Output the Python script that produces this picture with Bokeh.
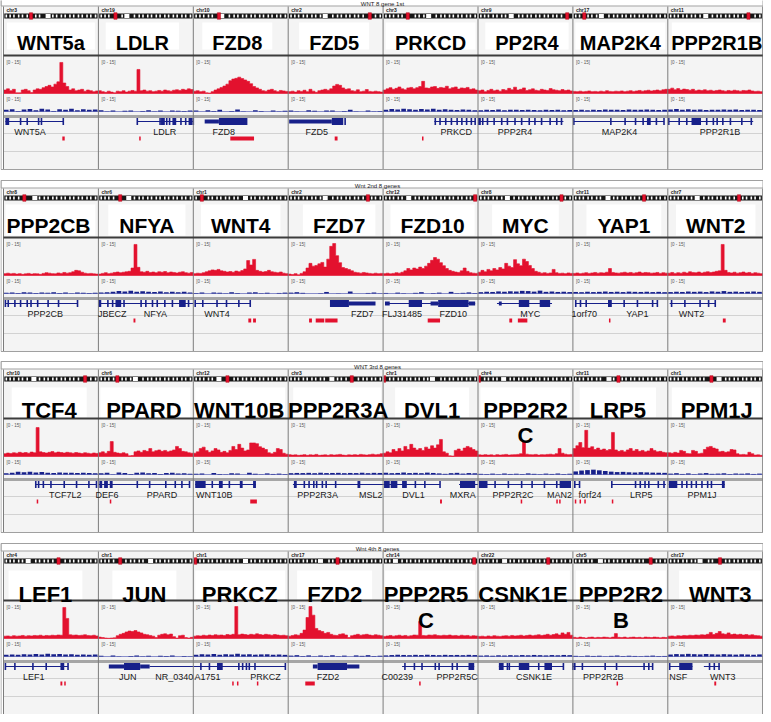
from bokeh.plotting import figure
from bokeh.models import Range1d
from bokeh.core.properties import value
from bokeh.embed import file_html
from bokeh.resources import INLINE

# ------------------------------------------------------------------ data
panel_titles = ["WNT 8 gene 1st", "Wnt 2nd 8 genes", "WNT 3rd 8 genes", "Wnt 4th 8 genes"]

genes_p1 = ["WNT5a", "LDLR", "FZD8", "FZD5", "PRKCD", "PP2R4", "MAP2K4", "PPP2R1B"]
genes_p2 = ["PPP2CB", "NFYA", "WNT4", "FZD7", "FZD10", "MYC", "YAP1", "WNT2"]
genes_p3 = ["TCF4", "PPARD", "WNT10B", "PPP2R3A", "DVL1", "PPP2R2", "LRP5", "PPM1J"]
genes_p4 = ["LEF1", "JUN", "PRKCZ", "FZD2", "PPP2R5", "CSNK1E", "PPP2R2", "WNT3"]

sub_p1 = ["", "", "", "", "", "", "", ""]
sub_p2 = ["", "", "", "", "", "", "", ""]
sub_p3 = ["", "", "", "", "", "C", "", ""]
sub_p4 = ["", "", "", "", "C", "", "B", ""]

chroms_p1 = ["chr3", "chr19", "chr10", "chr2", "chr3", "chr9", "chr17", "chr11"]
chroms_p2 = ["chr8", "chr6", "chr1", "chr2", "chr12", "chr8", "chr11", "chr7"]
chroms_p3 = ["chr10", "chr6", "chr12", "chr3", "chr1", "chr4", "chr11", "chr1"]
chroms_p4 = ["chr4", "chr1", "chr1", "chr17", "chr14", "chr22", "chr5", "chr17"]

# position of the viewed locus (red box) and the centromere on each ideogram
locus_p1 = [0.29, 0.18, 0.27, 0.86, 0.26, 0.94, 0.12, 0.85]
locus_p2 = [0.22, 0.23, 0.09, 0.84, 0.97, 0.88, 0.75, 0.75]
locus_p3 = [0.86, 0.20, 0.36, 0.67, 0.01, 0.01, 0.48, 0.46]
locus_p4 = [0.58, 0.23, 0.02, 0.52, 0.96, 0.74, 0.82, 0.55]
centro_p1 = [0.47, 0.30, 0.30, 0.39, 0.48, 0.35, 0.30, 0.40]
centro_p2 = [0.33, 0.32, 0.55, 0.39, 0.27, 0.31, 0.37, 0.31]
centro_p3 = [0.32, 0.39, 0.27, 0.46, 0.52, 0.27, 0.38, 0.54]
centro_p4 = [0.26, 0.55, 0.55, 0.34, 0.13, 0.28, 0.29, 0.34]

# red coverage track (0-15), 32 bins per gene window
red_p1 = [
    [1.5, 2, 1.2, 1.8, 0.3, 0.3, 1.5, 1.8, 1.2, 0.4, 1.5, 2, 1.8, 2.5, 3, 3.5, 2.8, 4, 5, 13.3, 4.5, 3, 1.5, 2, 1.2, 1.5, 1.8, 1, 1.5, 1.2, 0.8, 1.1],
    [1.2, 0.8, 0.5, 1, 0.6, 0.3, 1, 0.8, 1.2, 0.6, 1, 1.3, 1, 10.3, 1.2, 1.5, 1, 1.2, 0.8, 1, 1.3, 1, 1.5, 1.2, 1, 1.4, 1.6, 1.3, 1.8, 1.5, 2, 1.7],
    [1, 1.2, 0.8, 1, 0.3, 0.2, 0.8, 1.5, 2, 2.6, 3.2, 4, 5.5, 6.2, 6.5, 7, 6.4, 5.8, 5.2, 4.2, 3, 2.4, 1.8, 1.2, 1, 1.5, 1.8, 1.2, 0.8, 1.3, 1.1, 0.9],
    [0.8, 1, 0.6, 1.2, 0.9, 1.4, 0.8, 1.8, 1, 0.5, 1.2, 1.5, 1.8, 1.4, 2, 3.2, 3.9, 3.5, 2.4, 1.8, 2, 1.2, 1, 1.6, 0.8, 1, 1.7, 0.9, 0.7, 1, 0.8, 0.6],
    [1.5, 2, 2.5, 1.8, 2.2, 2.8, 2, 1.6, 2.4, 2.6, 2, 2.5, 3, 5.2, 2.4, 2.2, 2.8, 3, 2.2, 2.6, 2.4, 3.1, 2, 2.5, 2.8, 1.9, 2.4, 2.2, 2.6, 1.8, 2, 1.5],
    [1.2, 1.5, 0.8, 1.3, 1.8, 1.2, 1.5, 1, 1.7, 1.4, 2.2, 1.6, 2.7, 1.5, 1.8, 2.4, 1.3, 1.6, 2, 1.4, 1.2, 1.8, 1.5, 1.3, 2.1, 1.6, 1.4, 1.2, 1.7, 1.3, 1.5, 1.1],
    [0.9, 0.8, 1, 0.7, 0.9, 1.1, 0.8, 0.9, 0.7, 1, 0.8, 1.2, 0.9, 0.8, 1, 0.9, 1.1, 0.8, 1, 1.2, 0.9, 1.1, 1.3, 1, 1.2, 1.4, 1.1, 1.3, 1.5, 1.2, 1.6, 1.8],
    [1.8, 2.3, 1.6, 2.1, 1.5, 1.9, 1.7, 1.4, 1.8, 1.2, 1.5, 1.3, 1.6, 1.2, 1.4, 1.1, 1.3, 1.5, 1.2, 1.0, 1.3, 1.1, 1.4, 1.2, 1.0, 1.3, 1.2, 1.5, 1.1, 0.9, 1.0, 0.8],
]
red_p2 = [
    [0.8, 1, 0.7, 0.9, 0.6, 0.8, 0.5, 0.7, 0.9, 0.6, 0.8, 0.7, 0.5, 0.9, 1.2, 1.0, 0.8, 0.7, 1.1, 0.9, 1.3, 1.0, 1.2, 1.6, 2.2, 2.0, 1.4, 1.0, 0.8, 0.9, 0.7, 0.6],
    [0.6, 0.9, 1.2, 0.8, 1.0, 1.3, 1.5, 1.2, 1.4, 1.6, 1.8, 3.2, 13.3, 3.5, 1.6, 1.4, 1.8, 1.3, 1.5, 1.2, 1.6, 1.4, 1.7, 1.2, 1.5, 1.3, 1.1, 1.4, 1.6, 1.2, 1.0, 1.3],
    [0.8, 1.0, 0.9, 1.2, 1.6, 2.0, 2.4, 2.2, 2.6, 2.0, 1.8, 1.5, 1.7, 1.4, 1.9, 1.6, 2.1, 2.8, 6.4, 4.5, 6.9, 2.2, 1.8, 1.5, 1.7, 2.2, 1.6, 1.4, 1.2, 1.5, 1.0, 0.8],
    [0.6, 0.4, 0.8, 0.3, 0.9, 1.6, 3.2, 5.2, 4.0, 4.3, 5.0, 5.6, 3.6, 7.0, 12.5, 13.7, 8.5, 5.5, 3.4, 3.0, 2.6, 2.0, 1.4, 1.2, 1.0, 1.3, 1.1, 0.9, 0.7, 1.0, 0.8, 0.9],
    [0.8, 1.0, 0.7, 0.9, 1.2, 1.0, 1.4, 2.0, 3.0, 2.4, 3.2, 2.8, 3.6, 3.0, 4.0, 5.2, 6.5, 7.7, 7.0, 5.5, 4.2, 3.0, 2.2, 1.8, 1.5, 1.3, 2.0, 3.2, 1.8, 1.2, 1.0, 0.9],
    [1.4, 2.2, 1.6, 2.6, 2.0, 3.0, 2.4, 3.4, 2.8, 5.2, 4.0, 3.4, 6.8, 5.0, 4.2, 7.0, 6.0, 4.3, 3.0, 1.8, 1.4, 1.0, 1.2, 0.9, 1.1, 2.6, 1.2, 0.9, 1.0, 0.8, 1.1, 0.9],
    [0.9, 1.1, 0.8, 1.0, 1.2, 0.9, 1.1, 1.3, 1.0, 1.2, 1.1, 1.4, 3.0, 1.3, 1.1, 1.0, 1.2, 1.4, 1.1, 1.3, 1.0, 1.2, 1.5, 1.1, 1.3, 1.2, 1.0, 1.1, 1.3, 0.9, 1.2, 1.0],
    [1.0, 1.3, 0.9, 1.2, 1.0, 1.4, 1.1, 1.6, 1.3, 1.2, 1.5, 1.1, 1.4, 1.6, 1.3, 1.5, 1.8, 2.0, 13.3, 2.2, 1.3, 1.1, 1.4, 1.0, 1.2, 1.5, 1.1, 1.3, 0.9, 1.2, 1.0, 0.8],
]
red_p3 = [
    [1.2, 1.5, 1.3, 1.6, 1.4, 1.8, 1.5, 1.7, 1.4, 1.9, 1.6, 12.4, 2.0, 1.7, 1.5, 1.8, 2.1, 1.6, 1.9, 1.7, 1.5, 1.8, 1.6, 1.4, 1.7, 1.5, 1.3, 1.6, 1.4, 1.2, 1.5, 1.3],
    [1.6, 2.0, 1.4, 2.2, 6.4, 1.8, 1.5, 1.3, 1.6, 1.2, 0.3, 0.4, 2.0, 2.4, 1.8, 2.6, 2.2, 3.4, 2.0, 2.5, 2.8, 2.2, 2.6, 2.0, 2.4, 2.8, 4.3, 3.4, 2.2, 2.0, 1.6, 1.4],
    [1.4, 2.0, 3.4, 4.0, 2.6, 1.8, 2.4, 3.4, 2.8, 1.8, 2.2, 1.6, 2.6, 4.3, 3.0, 5.2, 3.6, 2.4, 2.8, 5.8, 5.8, 5.5, 4.2, 3.6, 3.0, 1.6, 1.2, 1.8, 3.4, 3.0, 1.4, 1.0],
    [0.8, 0.6, 0.7, 0.5, 0.6, 0.8, 0.5, 0.7, 0.6, 0.9, 0.5, 0.6, 0.7, 0.5, 0.8, 0.6, 0.7, 0.9, 0.6, 0.5, 0.7, 0.6, 0.8, 0.6, 0.9, 0.7, 0.6, 0.8, 1.0, 0.7, 0.9, 1.2],
    [1.4, 2.0, 1.6, 3.0, 2.2, 3.4, 2.4, 4.3, 3.0, 5.2, 3.6, 2.8, 3.4, 2.6, 4.0, 3.2, 4.6, 3.6, 5.0, 7.3, 2.0, 1.4, 0.3, 0.2, 2.6, 3.2, 2.4, 3.6, 4.3, 3.8, 3.0, 2.4],
    [0.7, 0.6, 0.8, 0.6, 0.7, 0.5, 0.8, 0.6, 0.7, 0.9, 0.6, 0.7, 0.8, 0.9, 1.2, 6.4, 1.0, 0.8, 0.7, 0.9, 0.6, 0.8, 0.7, 0.9, 1.0, 0.8, 1.2, 3.4, 1.4, 1.0, 0.8, 0.9],
    [3.4, 4.6, 6.0, 3.8, 11.2, 3.6, 4.2, 3.0, 3.6, 2.8, 3.2, 2.6, 3.0, 10.3, 2.8, 2.2, 2.6, 2.0, 2.8, 3.4, 2.4, 3.0, 2.2, 2.6, 2.0, 2.4, 3.4, 2.6, 2.0, 2.2, 1.8, 1.6],
    [1.6, 1.4, 1.8, 1.5, 2.6, 2.2, 1.3, 1.2, 2.6, 2.2, 1.2, 1.4, 3.0, 4.0, 4.3, 3.6, 3.2, 2.0, 2.2, 1.8, 2.0, 3.0, 2.8, 1.2, 0.8, 0.9, 0.7, 1.8, 1.2, 0.6, 0.7, 0.5],
]
red_p4 = [
    [1.0, 1.1, 0.9, 1.2, 1.0, 1.1, 1.3, 1.0, 1.2, 1.1, 1.3, 1.2, 1.4, 1.1, 1.3, 1.2, 1.4, 1.3, 1.5, 1.4, 13.3, 8.6, 1.6, 1.4, 1.5, 1.3, 1.4, 1.6, 1.3, 1.2, 1.4, 1.1],
    [0.6, 0.4, 0.2, 0.1, 0.2, 0.3, 1.2, 1.8, 2.2, 2.8, 3.2, 3.0, 3.4, 2.8, 2.4, 1.8, 1.6, 1.3, 1.0, 0.4, 1.4, 1.8, 2.0, 1.6, 1.9, 0.8, 0.2, 1.2, 1.4, 0.4, 0.2, 0.5],
    [1.0, 1.2, 1.1, 1.4, 1.2, 1.5, 1.3, 1.6, 1.4, 1.5, 1.3, 1.7, 1.5, 1.8, 13.7, 1.6, 1.9, 1.7, 1.5, 1.8, 1.6, 2.0, 1.7, 1.5, 1.8, 1.6, 1.4, 1.7, 1.5, 1.3, 1.4, 1.2],
    [1.0, 1.3, 1.6, 1.4, 2.2, 3.6, 9.0, 13.7, 10.0, 4.3, 3.4, 3.0, 2.2, 2.6, 1.8, 1.4, 1.3, 1.8, 2.0, 1.5, 0.4, 1.2, 1.5, 1.8, 1.4, 1.6, 1.8, 1.5, 1.3, 1.6, 1.4, 1.2],
    [0.9, 1.1, 1.3, 1.0, 1.2, 1.4, 1.1, 1.3, 1.0, 1.2, 1.5, 1.4, 7.3, 1.3, 1.2, 1.5, 1.4, 1.6, 1.3, 1.2, 1.4, 1.3, 1.5, 1.2, 1.3, 1.1, 1.4, 1.2, 1.3, 1.0, 1.2, 1.1],
    [0.9, 1.0, 0.8, 1.1, 0.9, 1.2, 1.0, 0.9, 1.1, 1.2, 1.0, 1.3, 1.1, 1.2, 1.4, 1.1, 1.3, 1.5, 1.2, 1.4, 1.6, 1.3, 1.5, 1.8, 1.4, 1.7, 2.0, 1.5, 2.4, 1.8, 2.6, 1.4],
    [0.5, 0.3, 0.6, 0.4, 0.2, 0.5, 0.6, 0.3, 0.5, 0.4, 0.6, 0.5, 0.3, 0.6, 2.1, 0.5, 0.4, 0.6, 0.3, 0.5, 0.6, 0.4, 0.5, 0.3, 0.6, 0.5, 0.4, 0.6, 0.5, 0.3, 0.5, 0.4],
    [1.0, 1.1, 0.9, 1.2, 1.1, 1.3, 1.2, 1.4, 1.3, 1.5, 1.4, 1.6, 1.5, 1.8, 2.6, 1.7, 2.2, 3.0, 2.0, 1.8, 2.4, 1.7, 1.9, 1.6, 1.8, 1.5, 1.7, 1.4, 1.6, 1.3, 1.2, 1.0],
]

# blue coverage track (0-15), 16 bins per gene window
blue_p1 = [
    [1.5, 2, 0.5, 1.8, 2.2, 1.2, 2.5, 1.8, 0.4, 2, 1.6, 2.4, 1.2, 2, 1.5, 1.8],
    [1.2, 0.2, 0.8, 0, 0.6, 1, 0, 0.5, 1.2, 0.3, 0.8, 0, 1, 0.6, 0.4, 1],
    [0.8, 0, 1.2, 0.5, 1.5, 0, 0.4, 1.8, 0.3, 0, 1.2, 0.5, 0, 1, 0.3, 0.6],
    [1, 0.3, 0, 1.2, 0.6, 0, 0.8, 1, 0, 0.4, 1.5, 0.2, 0, 0.8, 0.3, 0.5],
    [1.5, 2.2, 1.8, 2.5, 2, 1.6, 2.2, 1.8, 2.4, 1.5, 2, 1.7, 1.3, 1.9, 1.5, 1.2],
    [1.2, 1.6, 1.4, 1.8, 1.2, 1.5, 1.7, 1.3, 1.6, 1.4, 1.2, 1.5, 1.3, 1.6, 1.2, 1.4],
    [1.3, 1.5, 1.2, 1.6, 1.4, 1.8, 1.5, 1.7, 1.4, 1.9, 1.6, 1.5, 1.8, 1.6, 1.4, 1.7],
    [1.8, 2.2, 1.6, 2, 1.5, 1.8, 1.4, 1.7, 1.5, 1.9, 1.6, 1.8, 1.4, 1.6, 1.5, 1.3],
]
blue_p2 = [
    [0.6, 1, 0.4, 1.2, 0.8, 0.5, 1, 0.7, 1.2, 0.5, 0.9, 0.3, 0.8, 0.6, 0.4, 0.7],
    [0.8, 1.2, 1.6, 2.2, 1.8, 2.4, 1.5, 2, 1.7, 1.4, 1.9, 1.2, 1.6, 1.1, 1.5, 1],
    [0.5, 0.8, 0, 1, 0.6, 0.3, 1.2, 0.4, 0, 0.9, 1.1, 0.3, 0.7, 0, 0.5, 0.8],
    [0.8, 1.2, 0.6, 0, 0, 0.3, 1.4, 0, 0.2, 0, 1.8, 0, 0, 0.5, 0.9, 0.2],
    [0.5, 0, 0.8, 0.3, 0, 0.6, 1.2, 0, 0.4, 0.8, 0, 1.5, 0.3, 0.6, 1, 0.4],
    [1.2, 1.6, 1.4, 1.9, 1.6, 2, 1.8, 2.4, 2.2, 1.7, 2.6, 1.5, 1.8, 1.4, 1.6, 1.3],
    [1.4, 1.2, 1.6, 1.3, 1.5, 1.8, 1.4, 1.6, 1.3, 1.7, 1.5, 1.4, 1.6, 1.3, 1.5, 1.2],
    [1.3, 1.6, 1.4, 1.8, 1.5, 1.7, 1.3, 1.9, 1.6, 2.2, 1.5, 1.7, 1.4, 1.6, 1.8, 1.5],
]
blue_p3 = [
    [1.2, 1.6, 2.4, 2, 2.6, 1.8, 2.2, 1.6, 1.4, 1.8, 1.5, 1.7, 1.3, 1.6, 1.4, 1.2],
    [1.2, 1.5, 0.3, 1.8, 1.4, 0.5, 1.6, 1.9, 1.2, 1.4, 0.4, 1.3, 1.5, 0.8, 1.1, 0.6],
    [0.6, 0.9, 0, 1.4, 0.5, 0.3, 1.2, 0.8, 0, 1.6, 0.7, 0.2, 1, 0.5, 0.8, 0.4],
    [1.2, 1.4, 1.3, 1.5, 1.2, 1.6, 1.3, 1.4, 1.5, 1.2, 1.4, 1.3, 1.6, 1.2, 1.5, 1.4],
    [1.6, 1.2, 1.4, 1.8, 1.3, 1.5, 1.2, 1.7, 1.4, 1, 0.6, 1.2, 1.5, 0.8, 1.3, 1.1],
    [0.6, 0.4, 0.8, 0.3, 0.9, 0.5, 0.7, 0.4, 1, 0.6, 0.3, 0.8, 0.5, 0.9, 0.4, 0.7],
    [2.8, 3.6, 4, 4.4, 3.8, 3.2, 2.6, 2.2, 2.4, 2, 1.8, 2.1, 1.9, 1.7, 1.6, 1.5],
    [0.8, 1.2, 0.5, 1, 0.3, 0.9, 1.3, 0.6, 0.8, 1.1, 0.4, 0.9, 0.7, 1, 0.5, 0.8],
]
blue_p4 = [
    [1.5, 1.8, 1.6, 2, 1.8, 2.2, 1.9, 2.4, 2, 2.2, 1.8, 2, 1.7, 1.9, 1.6, 1.8],
    [0.6, 0, 0.8, 0.3, 0, 0.5, 0.9, 0.2, 0.6, 0, 0.7, 0.4, 0.8, 0, 0.5, 0.3],
    [1.6, 2, 1.8, 2.2, 1.7, 2, 1.9, 2.4, 1.8, 2.1, 1.7, 1.9, 2, 1.6, 1.8, 1.5],
    [0.8, 1.2, 0.4, 1, 0.2, 0.9, 0.5, 1.1, 0.3, 0.8, 0, 1, 0.6, 1.2, 0.4, 0.7],
    [1, 1.3, 1.6, 1.4, 1.2, 1.5, 1.3, 1.6, 1.4, 1.2, 1.5, 1.3, 1.4, 1.2, 1.5, 1.3],
    [0.8, 1, 0.7, 1.1, 0.9, 1.2, 1, 1.3, 1.1, 1.4, 1.2, 1, 1.3, 1.1, 1.4, 1.2],
    [0.6, 0.3, 0.8, 0.5, 0.7, 0.2, 0.6, 0.9, 0.4, 0.7, 0.5, 0.3, 0.6, 0.8, 0.4, 0.5],
    [1.8, 2.2, 2, 2.4, 2.1, 1.9, 2.3, 2, 1.8, 2.1, 1.9, 1.7, 2, 1.8, 1.6, 1.9],
]

# gene annotation track (fractions of each gene window)
gene_lines_p1 = [[(0.02, 0.63)], [(0.41, 1.0)], [], [], [(0.54, 0.97)], [(0.0, 0.9)], [(0.01, 0.96)], [(0.01, 0.9)]]
gene_exons_p1 = [[0.18, 0.25, 0.37, 0.40, 0.63], [0.41, 0.65, 0.72, 0.75, 0.87, 0.92, 1.0], [], [0.6],
                 [0.55, 0.6, 0.66, 0.72, 0.78, 0.83, 0.88, 0.93, 0.97],
                 [0.05, 0.1, 0.17, 0.25, 0.31, 0.39, 0.46, 0.54, 0.6, 0.67, 0.76, 0.83, 0.88],
                 [0.01, 0.4, 0.55, 0.66, 0.74, 0.88, 0.96], [0.01, 0.12, 0.2, 0.41, 0.48, 0.52, 0.58, 0.66, 0.78, 0.88]]
gene_blocks_p1 = [[(0.02, 0.06, "t")], [(0.66, 0.70, "t"), (0.78, 0.82, "t"), (0.95, 0.99, "t")],
                  [(0.12, 0.27, "u"), (0.27, 0.57, "t")], [(0.01, 0.46, "u"), (0.46, 0.58, "t")], [],
                  [(0.0, 0.03, "t")], [(0.78, 0.82, "t")], [(0.25, 0.35, "t")]]
gene_names_p1 = [[("WNT5A", 0.28)], [("LDLR", 0.70)], [("FZD8", 0.32)], [("FZD5", 0.30)], [("PRKCD", 0.77)],
                 [("PPP2R4", 0.39)], [("MAP2K4", 0.49)], [("PPP2R1B", 0.55)]]
feats_p1 = [[(0.62, 0.645)], [(0.43, 0.44)], [(0.39, 0.64)], [(0.49, 0.52)], [(0.41, 0.425)], [], [], []]

gene_lines_p2 = [[(0.02, 0.78)], [(0.01, 1.0)], [(0.02, 0.6)], [], [(0.02, 0.97)], [(0.2, 0.78)], [(0.03, 0.89)], [(0.02, 0.5)]]
gene_exons_p2 = [[0.02, 0.05, 0.12, 0.18, 0.25, 0.29, 0.36, 0.47, 0.58, 0.78],
                 [0.1, 0.15, 0.27, 0.45, 0.5, 0.57, 0.62, 0.7, 0.78, 0.95], [0.02, 0.1, 0.25, 0.35, 0.48, 0.6], [],
                 [], [], [0.03, 0.08, 0.14, 0.54, 0.68, 0.84, 0.89], [0.04, 0.18, 0.34, 0.43, 0.5]]
gene_blocks_p2 = [[], [(0.0, 0.03, "t"), (0.18, 0.24, "t"), (0.85, 0.92, "t")], [],
                  [(0.44, 0.64, "t"), (0.64, 0.92, "u")],
                  [(0.02, 0.07, "u"), (0.27, 0.41, "t"), (0.5, 0.58, "u"), (0.58, 0.9, "t"), (0.9, 0.97, "u")],
                  [(0.22, 0.25, "u"), (0.43, 0.54, "t"), (0.65, 0.76, "t")], [(0.37, 0.41, "t")], []]
gene_names_p2 = [[("PPP2CB", 0.44)], [("JBECZ", 0.145), ("NFYA", 0.6)], [("WNT4", 0.25)], [("FZD7", 0.78)],
                 [("FLJ31485", 0.2), ("FZD10", 0.74)], [("MYC", 0.55)], [("1orf70", 0.12), ("YAP1", 0.68)],
                 [("WNT2", 0.25)]]
feats_p2 = [[], [(0.37, 0.39)], [(0.58, 0.61), (0.63, 0.66)], [(0.22, 0.25), (0.29, 0.38), (0.39, 0.52)],
            [(0.47, 0.6)], [(0.33, 0.36), (0.42, 0.52)], [(0.38, 0.39)], [(0.58, 0.61)]]

gene_lines_p3 = [[(0.34, 0.98)], [(0.0, 0.96)], [(0.02, 0.66)], [(0.05, 1.0)], [(0.0, 0.6), (0.8, 1.0)],
                 [(0.01, 0.98)], [(0.02, 0.07), (0.41, 0.98)], [(0.01, 0.6)]]
gene_exons_p3 = [[0.34, 0.37, 0.42, 0.5, 0.64, 0.77, 0.9, 0.98], [0.41, 0.54, 0.71, 0.81, 0.88, 0.96], [0.2, 0.38],
                 [0.17, 0.22, 0.27, 0.3, 0.36, 0.4, 0.5], [0.34, 0.44, 0.6],
                 [0.18, 0.32, 0.46, 0.57, 0.7, 0.83], [0.02, 0.07, 0.41, 0.66, 0.71, 0.76, 0.8, 0.9, 0.96],
                 [0.15, 0.2, 0.25, 0.3, 0.36, 0.42, 0.46]]
gene_blocks_p3 = [[], [(0.01, 0.04, "t"), (0.06, 0.1, "t"), (0.12, 0.15, "t")],
                  [(0.02, 0.13, "t"), (0.27, 0.31, "t"), (0.49, 0.52, "t"), (0.63, 0.66, "t")],
                  [(0.06, 0.09, "t"), (0.73, 0.76, "t")],
                  [(0.01, 0.07, "t"), (0.08, 0.15, "t"), (0.2, 0.25, "t"), (0.81, 0.97, "t")],
                  [(0.01, 0.1, "t"), (0.86, 0.98, "t")], [], [(0.01, 0.1, "t"), (0.57, 0.6, "t")]]
gene_names_p3 = [[("TCF7L2", 0.65)], [("DEF6", 0.09), ("PPARD", 0.67)], [("WNT10B", 0.22)],
                 [("PPP2R3A", 0.31), ("MSL2", 0.87)], [("DVL1", 0.32), ("MXRA", 0.84)],
                 [("PPP2R2C", 0.37), ("MAN2", 0.86)], [("forf24", 0.18), ("LRP5", 0.72)], [("PPM1J", 0.36)]]
feats_p3 = [[(0.35, 0.36)], [(0.12, 0.13)], [(0.6, 0.67)], [], [(0.6, 0.62)],
            [(0.45, 0.46), (0.825, 0.835), (0.855, 0.865)], [(0.02, 0.03), (0.07, 0.08), (0.12, 0.13), (0.41, 0.42)], []]

gene_lines_p4 = [[(0.02, 0.68)], [(0.54, 1.0)], [(0.0, 0.97)], [], [(0.2, 0.96)], [(0.22, 0.9)], [(0.0, 0.84)],
                 [(0.02, 0.26), (0.38, 0.55)]]
gene_exons_p4 = [[0.02, 0.12, 0.31, 0.45, 0.68], [], [0.08, 0.17, 0.48, 0.52, 0.56, 0.59, 0.65, 0.97], [],
                 [0.23, 0.33, 0.41, 0.55, 0.59, 0.73, 0.78], [0.31, 0.33, 0.64, 0.9],
                 [0.0, 0.02, 0.1, 0.34, 0.46, 0.75, 0.8, 0.84], [0.02, 0.44, 0.49, 0.54]]
gene_blocks_p4 = [[(0.6, 0.64, "t")], [(0.11, 0.27, "u"), (0.27, 0.44, "t"), (0.44, 0.54, "u")],
                  [(0.25, 0.31, "t")], [(0.26, 0.31, "u"), (0.31, 0.62, "t"), (0.62, 0.75, "u")],
                  [(0.9, 0.96, "t")], [(0.22, 0.27, "t"), (0.43, 0.54, "t"), (0.7, 0.78, "t")], [],
                  [(0.12, 0.26, "t")]]
gene_names_p4 = [[("LEF1", 0.32)], [("JUN", 0.31), ("NR_0340", 0.8)], [("A1751", 0.15), ("PRKCZ", 0.76)],
                 [("FZD2", 0.42)], [("C00239", 0.15), ("PPP2R5C", 0.78)], [("CSNK1E", 0.59)],
                 [("PPP2R2B", 0.32)], [("NSF", 0.11), ("WNT3", 0.58)]]
feats_p4 = [[(0.6, 0.62), (0.64, 0.655)], [], [(0.41, 0.42), (0.46, 0.47), (0.67, 0.68)], [(0.18, 0.28)],
            [(0.38, 0.39)], [], [(0.46, 0.47)], [(0.49, 0.51)]]

# ------------------------------------------------------------------ layout / style
X0, COLW, NCOL = 11.0, 94.9, 8
PANEL_DY = [0, 182, 363, 545]
LABEL_FS = [20, 21, 22, 22]
LABEL_CY = [43, 43, 47, 49.5]
SUB_CY = [0, 0, 72, 75]
BOX_TOP = [30, 30, 32, 33]
BOX_BOT = [57, 61, 62, 62]
LABEL_DX = [[0, -3.5, -3.5, -1.5, 0, 1.5, 0, 1.5],
            [-2.5, 1, 0, 3.5, 2, 0, 3.5, 0.5],
            [-1.7, -2, -1.5, 2.5, 1.5, 0, -2.5, 1.5],
            [-5.5, -1.5, -1, -1, -4.5, -2.5, 0.5, 5]]
TITLE_X = [390, 385, 385, 385]
RED_BASE, RED_PX = 101.0, 35.0 / 15.0
BLUE_BASE, BLUE_PX = 119.0, 1.1
GENE_Y, NAME_Y, FEAT_Y = 129.0, 136.0, 146.0
BAND_FRACS = [0.03, 0.07, 0.11, 0.16, 0.2, 0.25, 0.29, 0.34, 0.38, 0.43, 0.47, 0.52, 0.56, 0.61,
              0.65, 0.7, 0.74, 0.79, 0.83, 0.88, 0.92, 0.97]

RED = "#e3112e"
NAVY = "#17208a"
FONT = value("Liberation Sans")

ARIAL_BOLD = {"A": .722, "B": .722, "C": .722, "D": .722, "E": .667, "F": .611, "J": .556, "K": .722,
              "L": .611, "M": .833, "N": .722, "P": .667, "R": .722, "S": .667, "T": .611, "U": .722,
              "W": .944, "Y": .667, "Z": .611, "a": .556}

panels = [
    dict(genes=genes_p1, sub=sub_p1, chroms=chroms_p1, locus=locus_p1, centro=centro_p1, red=red_p1, blue=blue_p1,
         lines=gene_lines_p1, exons=gene_exons_p1, blocks=gene_blocks_p1, names=gene_names_p1, feats=feats_p1),
    dict(genes=genes_p2, sub=sub_p2, chroms=chroms_p2, locus=locus_p2, centro=centro_p2, red=red_p2, blue=blue_p2,
         lines=gene_lines_p2, exons=gene_exons_p2, blocks=gene_blocks_p2, names=gene_names_p2, feats=feats_p2),
    dict(genes=genes_p3, sub=sub_p3, chroms=chroms_p3, locus=locus_p3, centro=centro_p3, red=red_p3, blue=blue_p3,
         lines=gene_lines_p3, exons=gene_exons_p3, blocks=gene_blocks_p3, names=gene_names_p3, feats=feats_p3),
    dict(genes=genes_p4, sub=sub_p4, chroms=chroms_p4, locus=locus_p4, centro=centro_p4, red=red_p4, blue=blue_p4,
         lines=gene_lines_p4, exons=gene_exons_p4, blocks=gene_blocks_p4, names=gene_names_p4, feats=feats_p4),
]

p = figure(width=763, height=714, x_range=Range1d(8, 771), y_range=Range1d(722, 8),
           output_backend="svg", toolbar_location=None, min_border=0,
           x_axis_location=None, y_axis_location=None)
p.grid.visible = False
p.outline_line_color = None
p.background_fill_color = "white"
p.border_fill_color = "white"


def Q():
    return dict(left=[], right=[], top=[], bottom=[])


def S():
    return dict(x0=[], y0=[], x1=[], y1=[])


def T():
    return dict(x=[], y=[], text=[])


def addq(d, l, r, t, b):
    d["left"].append(l); d["right"].append(r); d["top"].append(t); d["bottom"].append(b)


def adds(d, x0, y0, x1, y1):
    d["x0"].append(x0); d["y0"].append(y0); d["x1"].append(x1); d["y1"].append(y1)


def addt(d, x, y, t):
    d["x"].append(x); d["y"].append(y); d["text"].append(t)


q_bg, q_title, q_box, q_iblack, q_iwhite, q_ired = Q(), Q(), Q(), Q(), Q(), Q()
q_blue, q_gene, q_feat = Q(), Q(), Q()
red_xs, red_ys = [], []
s_div, s_thick, s_gray, s_faint, s_gline, s_bbase, s_frame = S(), S(), S(), S(), S(), S(), S()
t_title, t_chr, t_scale, t_names = T(), T(), T(), T()
t_labels = [T() for _ in range(4)]
t_subs = [T() for _ in range(4)]

XR = X0 + NCOL * COLW
for pi, pan in enumerate(panels):
    dy = PANEL_DY[pi]
    addq(q_bg, X0, XR, dy + 14, dy + 177)
    addq(q_title, 8.5, 770.5, dy + 6, dy + 13.5)
    addt(t_title, TITLE_X[pi], dy + 11.8, panel_titles[pi])
    adds(s_frame, 8.5, dy + 6, 8.5, dy + 177)
    adds(s_frame, 8.5, dy + 177, 770.5, dy + 177)
    adds(s_thick, X0, dy + 63, XR, dy + 63)
    adds(s_gray, X0, dy + 124, XR, dy + 124)
    adds(s_faint, X0, dy + 141, XR, dy + 141)
    adds(s_faint, X0, dy + 159, XR, dy + 159)
    for c in range(NCOL + 1):
        adds(s_div, X0 + c * COLW, dy + 14, X0 + c * COLW, dy + 177)
    for c in range(NCOL):
        L = X0 + c * COLW
        R = L + COLW

        def fx(f):
            return L + max(0.0, min(1.0, f)) * COLW

        # ideogram
        addt(t_chr, L + 3, dy + 17.8, pan["chroms"][c])
        addq(q_iblack, L + 0.8, R - 0.8, dy + 21, dy + 26)
        lx, cx = fx(pan["locus"][c]), fx(pan["centro"][c])
        for bf in BAND_FRACS:
            bx = fx(bf)
            if abs(bx - lx) > 3.5 and abs(bx - cx) > 4.5:
                addq(q_iwhite, bx - 0.8, bx + 0.8, dy + 22, dy + 25)
        addq(q_iwhite, cx - 2.5, cx + 2.5, dy + 21.6, dy + 25.4)
        addq(q_ired, max(L + 1, lx - 1.6), min(R - 1, lx + 1.6), dy + 20.2, dy + 26.8)
        # label box and big label
        fs = LABEL_FS[pi]
        name = pan["genes"][c]
        tw = sum(ARIAL_BOLD.get(ch, .556) for ch in name) * fs
        lcx = L + COLW / 2 + LABEL_DX[pi][c]
        bw = min(tw + 20, COLW - 5)
        bl = max(L + 2, lcx - bw / 2)
        br = min(R - 2, bl + bw)
        addq(q_box, bl, br, dy + BOX_TOP[pi], dy + BOX_BOT[pi])
        addt(t_labels[pi], lcx, dy + LABEL_CY[pi] + 0.358 * fs, name)
        if pan["sub"][c]:
            addt(t_subs[pi], lcx, dy + SUB_CY[pi] + 0.358 * fs, pan["sub"][c])
        # track scale labels
        addt(t_scale, L + 3, dy + 69.5, "[0 - 15]")
        addt(t_scale, L + 3, dy + 106.5, "[0 - 15]")
        # red coverage as one stepped area per window
        vals = pan["red"][c]
        bwid = COLW / len(vals)
        xs, ys = [L], [dy + RED_BASE]
        for k, v in enumerate(vals):
            top = dy + RED_BASE - v * RED_PX
            xs += [L + k * bwid, L + (k + 1) * bwid]
            ys += [top, top]
        xs.append(R); ys.append(dy + RED_BASE)
        red_xs.append(xs); red_ys.append(ys)
        # blue coverage
        bvals = pan["blue"][c]
        bwid = COLW / len(bvals)
        adds(s_bbase, L, dy + BLUE_BASE, R, dy + BLUE_BASE)
        for k, v in enumerate(bvals):
            if v > 0:
                addq(q_blue, L + k * bwid + 0.4, L + (k + 0.85) * bwid, dy + BLUE_BASE - v * BLUE_PX, dy + BLUE_BASE)
        # gene models
        for a, b in pan["lines"][c]:
            adds(s_gline, fx(a), dy + GENE_Y, fx(b), dy + GENE_Y)
        for e in pan["exons"][c]:
            ex = fx(e)
            addq(q_gene, ex - 0.8, ex + 0.8, dy + GENE_Y - 3.5, dy + GENE_Y + 3.5)
        for a, b, kind in pan["blocks"][c]:
            h = 3.5 if kind == "t" else 2.0
            addq(q_gene, fx(a), fx(b), dy + GENE_Y - h, dy + GENE_Y + h)
        for txt, f in pan["names"][c]:
            addt(t_names, fx(f), dy + NAME_Y + 3.2, txt)
        for a, b in pan["feats"][c]:
            x0, x1 = fx(a), fx(b)
            if x1 - x0 < 1.5:
                x1 = x0 + 1.5
            addq(q_feat, x0, x1, dy + FEAT_Y - 2, dy + FEAT_Y + 2)

p.quad(**q_bg, fill_color="#f4f4f4", line_color=None)
p.quad(**q_title, fill_color="white", line_color="#a0a0a0", line_width=1)
p.quad(**q_box, fill_color="white", line_color=None)
p.quad(**q_iblack, fill_color="#151515", line_color=None)
p.quad(**q_iwhite, fill_color="white", line_color=None)
p.quad(**q_ired, fill_color=RED, line_color="#b00010", line_width=0.5)
p.patches(xs=red_xs, ys=red_ys, fill_color=RED, line_color=RED, line_width=0.6)
p.segment(**s_bbase, line_color="#5a62b8", line_width=0.7)
p.quad(**q_blue, fill_color=NAVY, line_color=None)
p.segment(**s_faint, line_color="#d2d2d2", line_width=1)
p.segment(**s_gray, line_color="#a6a6a6", line_width=3)
p.segment(**s_gline, line_color=NAVY, line_width=1)
p.quad(**q_gene, fill_color=NAVY, line_color=None)
p.quad(**q_feat, fill_color=RED, line_color=None)
p.segment(**s_div, line_color="#7c7c7c", line_width=1)
p.segment(**s_thick, line_color="#3c3c3c", line_width=2)
p.segment(**s_frame, line_color="#a0a0a0", line_width=1)

p.text(**t_title, text_font=FONT, text_font_size="6px", text_color="#222222",
       text_align="center", text_baseline="alphabetic")
p.text(**t_chr, text_font=FONT, text_font_size="5px", text_font_style="bold", text_color="#222222",
       text_align="left", text_baseline="alphabetic")
p.text(**t_scale, text_font=FONT, text_font_size="4.5px", text_color="#555555",
       text_align="left", text_baseline="alphabetic")
p.text(**t_names, text_font=FONT, text_font_size="9px", text_color="#1a1a1a",
       text_align="center", text_baseline="alphabetic")
for pi in range(4):
    p.text(**t_labels[pi], text_font=FONT, text_font_size=f"{LABEL_FS[pi]}px", text_font_style="bold",
           text_color="black", text_align="center", text_baseline="alphabetic")
    if t_subs[pi]["x"]:
        p.text(**t_subs[pi], text_font=FONT, text_font_size=f"{LABEL_FS[pi]}px", text_font_style="bold",
               text_color="black", text_align="center", text_baseline="alphabetic")

open("out.html", "w").write(file_html(p, INLINE))
